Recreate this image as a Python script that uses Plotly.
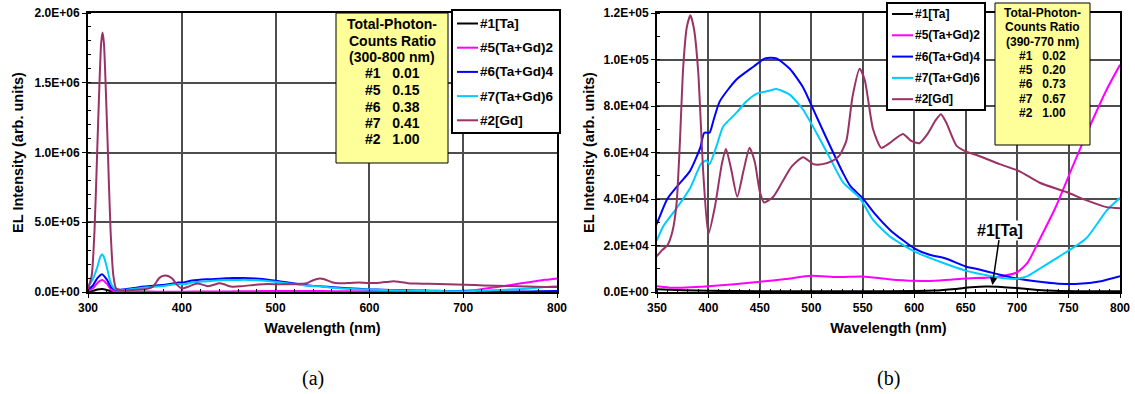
import plotly.graph_objects as go

W, H = 1135, 394

def px(x):
    return x / W

def py(y):
    return 1 - y / H

# ---------------- data ----------------
names = ["#1[Ta]", "#5(Ta+Gd)2", "#6(Ta+Gd)4", "#7(Ta+Gd)6", "#2[Gd]"]
colors = ["#000000", "#FF00FF", "#0000FF", "#00CCFF", "#993366"]

wl_ta = [300, 305, 310, 315, 320, 325, 330, 350, 375, 400, 450, 500, 550, 600, 620, 640, 655, 670, 685, 700, 715, 730, 760, 800]
ta = [3e3, 8e3, 1.8e4, 2.2e4, 1.5e4, 4e3, 1.5e3, 1.2e3, 8e2, 5e2, 3e2, 3e2, 3e2, 4e2, 6e2, 1.3e3, 2.0e3, 2.4e3, 2.2e3, 1.7e3, 1.1e3, 6e2, 3e2, 3e2]

wl_s5 = [300, 305, 310, 315, 320, 325, 330, 340, 350, 365, 400, 425, 450, 475, 500, 525, 550, 575, 600, 625, 650, 680, 700, 710, 722, 738, 754, 770, 787, 800]
s5 = [8e3, 2.5e4, 6.5e4, 8.6e4, 6e4, 1.5e4, 3e3, 2.2e3, 2.5e3, 1.8e3, 2.5e3, 3.3e3, 4.4e3, 5.6e3, 7.0e3, 6.4e3, 6.7e3, 5.5e3, 4.8e3, 5.0e3, 5.8e3, 6.5e3, 8.5e3, 1.25e4, 2.27e4, 3.7e4, 5.4e4, 7.06e4, 8.7e4, 9.77e4]

wl_s6 = [300, 305, 310, 315, 320, 325, 330, 340, 350, 360, 372, 382, 392, 396, 401, 405, 411, 427, 444, 455, 466, 479, 492, 505, 518, 531, 538, 550, 561, 577, 600, 615, 630, 650, 665, 680, 700, 720, 740, 760, 780, 800]
s6 = [2e4, 4.5e4, 1.0e5, 1.28e5, 9e4, 3e4, 1.6e4, 2.0e4, 2.96e4, 4.0e4, 4.67e4, 5.2e4, 6.2e4, 6.85e4, 6.85e4, 7.4e4, 8.2e4, 9.13e4, 9.7e4, 1.005e5, 1.005e5, 9.6e4, 8.8e4, 7.55e4, 6.3e4, 5.1e4, 4.55e4, 4.03e4, 3.4e4, 2.65e4, 1.88e4, 1.6e4, 1.45e4, 1.1e4, 9.5e3, 7.8e3, 5.8e3, 4.5e3, 3.6e3, 3.5e3, 4.5e3, 6.8e3]

wl_s7 = [300, 305, 310, 313, 315, 317, 320, 324, 328, 335, 345, 350, 356, 369, 382, 393, 398, 401, 408, 414, 418, 428, 437, 447, 460, 466, 479, 492, 505, 518, 531, 547, 560, 576, 600, 625, 650, 675, 690, 700, 710, 720, 740, 767, 787, 800]
s7 = [4e4, 9e4, 1.8e5, 2.5e5, 2.7e5, 2.5e5, 1.8e5, 7e4, 2.5e4, 1.5e4, 1.9e4, 2.25e4, 2.82e4, 3.6e4, 4.45e4, 5.52e4, 5.66e4, 5.5e4, 6.3e4, 7.1e4, 7.3e4, 7.75e4, 8.2e4, 8.53e4, 8.67e4, 8.73e4, 8.49e4, 7.84e4, 6.84e4, 5.77e4, 4.7e4, 4.05e4, 3.1e4, 2.4e4, 1.75e4, 1.3e4, 9.2e3, 6.8e3, 5.8e3, 5.7e3, 6.8e3, 9.5e3, 1.5e4, 2.3e4, 3.5e4, 4.05e4]

wl_gd = [300, 304, 307, 310, 312, 314, 315.5, 317, 319, 321, 324, 327, 330, 335, 340, 345, 350, 355, 360, 365, 369, 372, 375.5, 379, 382.5, 386, 390, 395, 400, 406, 413, 417, 422, 428, 434, 440, 445, 450, 454, 463, 472, 481, 492, 502, 511, 521, 527, 534, 540, 547, 552, 560, 568, 576, 589, 597, 605, 613, 621, 626, 631, 641, 650, 663, 683, 702, 722, 748, 767, 787, 800]
gd = [2e4, 1.2e5, 4.5e5, 1.05e6, 1.45e6, 1.78e6, 1.86e6, 1.78e6, 1.45e6, 1.05e6, 4.5e5, 1.2e5, 2.5e4, 1.2e4, 1.1e4, 1.3e4, 1.55e4, 1.8e4, 2.0e4, 2.6e4, 3.8e4, 6.2e4, 9.7e4, 1.14e5, 1.19e5, 1.13e5, 9.5e4, 5.1e4, 2.5e4, 3.6e4, 5.5e4, 6.15e4, 5.3e4, 4.1e4, 5.2e4, 6.2e4, 5.6e4, 4.3e4, 3.85e4, 4.1e4, 4.75e4, 5.4e4, 5.8e4, 5.5e4, 5.5e4, 5.65e4, 5.85e4, 6.5e4, 8.4e4, 9.6e4, 9.1e4, 7.0e4, 6.2e4, 6.4e4, 6.8e4, 6.5e4, 6.4e4, 6.8e4, 7.4e4, 7.65e4, 7.3e4, 6.3e4, 6.05e4, 5.85e4, 5.5e4, 5.2e4, 4.7e4, 4.3e4, 3.95e4, 3.65e4, 3.6e4]

xs = [wl_ta, wl_s5, wl_s6, wl_s7, wl_gd]
ys = [ta, s5, s6, s7, gd]

xticks_a = [300, 400, 500, 600, 700, 800]
yticks_a = [0, 5e5, 1e6, 1.5e6, 2e6]
ytext_a = ["0.0E+00", "5.0E+05", "1.0E+06", "1.5E+06", "2.0E+06"]
xticks_b = [350, 400, 450, 500, 550, 600, 650, 700, 750, 800]
yticks_b = [0, 2e4, 4e4, 6e4, 8e4, 1e5, 1.2e5]
ytext_b = ["0.0E+00", "2.0E+04", "4.0E+04", "6.0E+04", "8.0E+04", "1.0E+05", "1.2E+05"]

ratio_a = ["0.01", "0.15", "0.38", "0.41", "1.00"]
ratio_b = ["0.02", "0.20", "0.73", "0.67", "1.00"]
ratio_ids = ["#1", "#5", "#6", "#7", "#2"]

FONT = "Liberation Sans, Arial, sans-serif"

fig = go.Figure()
for i in range(5):
    for xa, ya in (("x", "y"), ("x2", "y2")):
        fig.add_trace(go.Scatter(
            x=xs[i], y=ys[i], mode="lines", name=names[i],
            line=dict(color=colors[i], width=2, shape="spline", smoothing=0.6),
            xaxis=xa, yaxis=ya, showlegend=False, cliponaxis=True))

tickfont = dict(family=FONT, size=12, color="black", weight="bold")
titlefont = dict(family=FONT, size=14.5, color="black", weight="bold")
common = dict(showline=True, mirror=True, linecolor="black", linewidth=2,
              showgrid=True, gridcolor="#4d4d4d", gridwidth=1.5,
              zeroline=False, ticks="outside", ticklen=4, tickcolor="black",
              tickfont=tickfont, automargin=False)

fig.update_layout(
    width=W, height=H, margin=dict(l=0, r=0, t=0, b=0),
    paper_bgcolor="white", plot_bgcolor="white", showlegend=False,
    xaxis=dict(domain=[px(88), px(557)], range=[300, 800], tickvals=xticks_a,
               minor=dict(dtick=20, ticks="inside", ticklen=3, tickcolor="black", showgrid=False),
               title=dict(text="Wavelength (nm)", font=titlefont, standoff=8), anchor="y", **common),
    yaxis=dict(domain=[py(292), py(13)], range=[0, 2e6], tickvals=yticks_a, ticktext=ytext_a,
               minor=dict(dtick=1e5, ticks="inside", ticklen=3, tickcolor="black", showgrid=False),
               title=dict(text="EL Intensity (arb. units)", font=titlefont, standoff=7), anchor="x", **common),
    xaxis2=dict(domain=[px(657), px(1120)], range=[350, 800], tickvals=xticks_b,
                minor=dict(dtick=10, ticks="inside", ticklen=3, tickcolor="black", showgrid=False),
                title=dict(text="Wavelength (nm)", font=titlefont, standoff=8), anchor="y2", **common),
    yaxis2=dict(domain=[py(292), py(13)], range=[0, 1.2e5], tickvals=yticks_b, ticktext=ytext_b,
                minor=dict(dtick=1e4, ticks="inside", ticklen=3, tickcolor="black", showgrid=False),
                title=dict(text="EL Intensity (arb. units)", font=titlefont, standoff=5), anchor="x2", **common),
)

shapes = []
annotations = []

def rect(x0, y0, x1, y1, fill, lw):
    shapes.append(dict(type="rect", xref="paper", yref="paper",
                       x0=px(x0), x1=px(x1), y0=py(y1), y1=py(y0),
                       fillcolor=fill, line=dict(color="black", width=lw), layer="above"))

def text_at(x, y, txt, size, anchor="center"):
    annotations.append(dict(xref="paper", yref="paper", x=px(x), y=py(y),
                            xanchor=anchor, yanchor="middle", showarrow=False, text=txt,
                            font=dict(family=FONT, size=size, color="black", weight="bold")))

# yellow ratio boxes
def ratio_box(x0, y0, x1, y1, rng, vals, fsize, first, step):
    rect(x0, y0, x1, y1, "#FFFF99", 1)
    lines = ["Total-Photon-", "Counts Ratio", "(%s nm)" % rng]
    lines += ["%s\u00a0\u00a0\u00a0%s" % (a, b) for a, b in zip(ratio_ids, vals)]
    for k, ln in enumerate(lines):
        text_at((x0 + x1) / 2, first + k * step, ln, fsize)

ratio_box(336, 13, 448, 163, "300-800", ratio_a, 14, 24, 16.5)
ratio_box(995, 3, 1090, 145, "390-770", ratio_b, 12, 13.3, 14.2)

# legends
def legend_box(x0, y0, x1, y1, first, gap, lx0, lx1, fsize):
    rect(x0, y0, x1, y1, "white", 2)
    for i in range(5):
        yy = first + i * gap
        shapes.append(dict(type="line", xref="paper", yref="paper",
                           x0=px(lx0), x1=px(lx1), y0=py(yy), y1=py(yy),
                           line=dict(color=colors[i], width=2), layer="above"))
        text_at(lx1, yy, names[i], fsize, anchor="left")

legend_box(452, 10, 560, 133, 23.5, 24.2, 457, 478, 13.5)
legend_box(887, 3, 985, 110, 14, 21.3, 892, 913, 12)

# arrow annotation
annotations.append(dict(xref="x2", yref="y2", x=676, y=3000, ax=8, ay=-55,
                        text="#1[Ta]", showarrow=True, arrowhead=2, arrowsize=1,
                        arrowwidth=1.5, arrowcolor="black", bgcolor="white",
                        font=dict(family=FONT, size=16, color="black", weight="bold")))

# panel labels
for lab, xc in (("(a)", 313), ("(b)", 888)):
    annotations.append(dict(xref="paper", yref="paper", x=px(xc), y=py(378),
                            xanchor="center", yanchor="middle", showarrow=False, text=lab,
                            font=dict(family="Liberation Serif, serif", size=20, color="black")))

fig.update_layout(shapes=shapes, annotations=annotations)
fig.write_html("out.html")
